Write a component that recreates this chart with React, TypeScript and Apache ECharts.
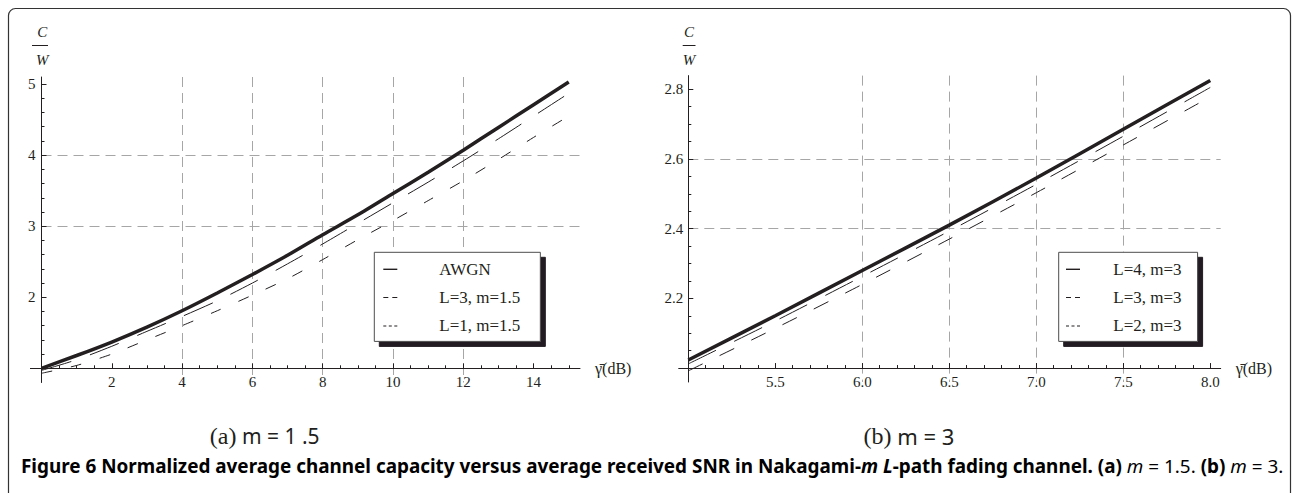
import React, { useEffect, useRef } from 'react';
import * as echarts from 'echarts';

// ---------- data ----------
// Panel (a): m = 1.5, x = average SNR (dB)
const snrA = [0, 1, 2, 3, 4, 5, 6, 7, 8, 9, 10, 11, 12, 13, 14, 15];
const awgnA = [1.0, 1.18, 1.37, 1.58, 1.81, 2.06, 2.32, 2.59, 2.88, 3.16, 3.46, 3.76, 4.07, 4.39, 4.71, 5.03];
const l3m15A = [0.97, 1.12, 1.31, 1.52, 1.73, 1.95, 2.2, 2.47, 2.75, 3.04, 3.33, 3.62, 3.92, 4.23, 4.55, 4.87];
const l1m15A = [0.93, 1.04, 1.2, 1.4, 1.6, 1.81, 2.03, 2.26, 2.53, 2.81, 3.08, 3.36, 3.64, 3.94, 4.25, 4.55];

// Panel (b): m = 3
const snrB = [5.0, 5.5, 6.0, 6.5, 7.0, 7.5, 8.0];
const l4m3B = [2.023, 2.15, 2.28, 2.41, 2.545, 2.685, 2.825];
const l3m3B = [2.012, 2.135, 2.263, 2.393, 2.527, 2.665, 2.805];
const l2m3B = [1.992, 2.114, 2.24, 2.37, 2.503, 2.64, 2.778];

// tick labels
const xLabelsA = [2, 4, 6, 8, 10, 12, 14];
const yLabelsA = [2, 3, 4, 5];
const xLabelsB = [5.5, 6.0, 6.5, 7.0, 7.5, 8.0];
const yLabelsB = [2.2, 2.4, 2.6, 2.8];

// ---------- styling / layout ----------
const INK = '#231f20';
const GRID = '#a6a6a6';
const SERIF = 'Liberation Serif';
const SANS = 'Noto Sans';

const xRangeA = [0, 15.32];
const yRangeA = [0.8, 5.1];
const xRangeB = [5, 8.06];
const yRangeB = [1.96, 2.839];
const crossA = 1; // y value where x-axis is drawn
const crossB = 2;

const gridA = { left: 41.5, top: 77, width: 538.5, height: 305.5 };
const gridB = { left: 688.3, top: 75.6, width: 532.4, height: 306.4 };

// legend sample icons (solid, long dash, short dash)
const ICON_SOLID = 'path://M0 0h14v1.4H0z';
const ICON_LONG = 'path://M0 0h5v1H0zM9 0h5v1H9z';
const ICON_SHORT = 'path://M0 0h3v1H0zM5.5 0h3v1H5.5zM11 0h3v1H11z';

function pairs(xs: number[], ys: number[]) {
  return xs.map((x, i) => [x, ys[i]]);
}

function minorValues(from: number, to: number, step: number, major: number): number[] {
  const out: number[] = [];
  const n = Math.round((to - from) / step);
  for (let i = 0; i <= n; i++) {
    const v = Math.round((from + i * step) * 1e6) / 1e6;
    const r = v / major;
    if (Math.abs(r - Math.round(r)) > 1e-6) out.push(v);
  }
  return out;
}

const xMinorA = minorValues(0.5, 15, 0.5, 2);
const yMinorA = minorValues(1.2, 5.0, 0.2, 1);
const xMinorB = minorValues(5.1, 8.0, 0.1, 0.5);
const yMinorB = minorValues(2.05, 2.8, 0.05, 0.2);

function fmt(list: number[], dec: number) {
  return (v: number) =>
    list.some((t) => Math.abs(t - v) < 1e-6) ? (dec ? v.toFixed(dec) : String(v)) : '';
}

function xOffset(grid: any, yr: number[], cross: number) {
  return -((cross - yr[0]) / (yr[1] - yr[0])) * grid.height;
}

const labelStyle = { fontFamily: SERIF, fontSize: 15, color: INK };
const splitStyle = { color: GRID, type: [10, 6], width: 1 };

function mainX(gridIndex: number, range: number[], interval: number, labels: number[], dec: number, offset: number) {
  return {
    type: 'value', gridIndex, min: range[0], max: range[1], interval, position: 'bottom', offset, z: 1,
    axisLine: { show: true, onZero: false, lineStyle: { color: INK, width: 1 } },
    axisTick: { show: true, inside: true, length: 5, customValues: labels, lineStyle: { color: INK, width: 1 } },
    axisLabel: { show: true, margin: 6, customValues: labels, formatter: fmt(labels, dec), ...labelStyle },
    splitLine: { show: true, showMinLine: false, showMaxLine: false, lineStyle: splitStyle },
    name: '\u03B3\u0304(dB)', nameLocation: 'end', nameGap: 15,
    nameTextStyle: { fontFamily: SERIF, fontSize: 16, color: INK, padding: [4, 0, 0, 0] },
  };
}
function minorX(gridIndex: number, range: number[], values: number[], offset: number) {
  return {
    type: 'value', gridIndex, min: range[0], max: range[1], position: 'bottom', offset, z: 1,
    axisLine: { show: false, onZero: false },
    axisTick: { show: true, inside: true, length: 3, customValues: values, lineStyle: { color: INK, width: 1 } },
    axisLabel: { show: false }, splitLine: { show: false },
  };
}
function mainY(gridIndex: number, range: number[], interval: number, labels: number[], dec: number, margin: number) {
  return {
    type: 'value', gridIndex, min: range[0], max: range[1], interval, position: 'left', z: 0,
    axisLine: { show: true, onZero: false, lineStyle: { color: INK, width: 1 } },
    axisTick: { show: true, inside: true, length: 5, customValues: labels, lineStyle: { color: INK, width: 1 } },
    axisLabel: { show: true, margin, customValues: labels, formatter: fmt(labels, dec), ...labelStyle },
    splitLine: { show: true, showMinLine: false, showMaxLine: false, lineStyle: splitStyle },
  };
}
function minorY(gridIndex: number, range: number[], values: number[]) {
  return {
    type: 'value', gridIndex, min: range[0], max: range[1], position: 'left', z: 0,
    axisLine: { show: false, onZero: false },
    axisTick: { show: true, inside: true, length: 3, customValues: values, lineStyle: { color: INK, width: 1 } },
    axisLabel: { show: false }, splitLine: { show: false },
  };
}

function buildOption() {
  const offA = xOffset(gridA, yRangeA, crossA);
  const offB = xOffset(gridB, yRangeB, crossB);
  const axisYA = gridA.top + gridA.height + offA;
  const axisYB = gridB.top + gridB.height + offB;

  const lineBase = { type: 'line', symbol: 'none', showSymbol: false, smooth: 0.25, silent: true, color: INK };
  const legendCommon = {
    orient: 'vertical', itemWidth: 14, itemHeight: 10, itemGap: 11.3, selectedMode: false,
    backgroundColor: '#fff', borderColor: '#4d4d4d', borderWidth: 1,
    shadowColor: INK, shadowOffsetX: 5, shadowOffsetY: 5, shadowBlur: 0,
  };
  const legendText = { fontFamily: SERIF, fontSize: 17, color: INK };
  const iconStyle = { color: INK, borderWidth: 0 };

  const fracText = (x: number, y: number, t: string) => ({
    type: 'text', x, y, silent: true,
    style: { text: t, fontFamily: SERIF, fontStyle: 'italic', fontSize: 15, fill: INK, align: 'center', verticalAlign: 'middle' },
  });

  return {
    animation: false,
    backgroundColor: '#fff',
    color: [INK],
    grid: [
      { ...gridA, containLabel: false },
      { ...gridB, containLabel: false },
    ],
    xAxis: [
      mainX(0, xRangeA, 2, xLabelsA, 0, offA),
      minorX(0, xRangeA, xMinorA, offA),
      mainX(1, xRangeB, 0.5, xLabelsB, 1, offB),
      minorX(1, xRangeB, xMinorB, offB),
    ],
    yAxis: [
      mainY(0, yRangeA, 1, yLabelsA, 0, 6),
      minorY(0, yRangeA, yMinorA),
      mainY(1, yRangeB, 0.2, yLabelsB, 1, 5),
      minorY(1, yRangeB, yMinorB),
    ],
    legend: [
      {
        ...legendCommon, left: 374.3, top: 252.3, padding: [8.5, 20, 7, 9],
        textStyle: { ...legendText, padding: [0, 0, 0, 37] },
        data: [
          { name: 'AWGN', icon: ICON_SOLID, itemStyle: iconStyle },
          { name: 'L=3, m=1.5', icon: ICON_LONG, itemStyle: iconStyle },
          { name: 'L=1, m=1.5', icon: ICON_SHORT, itemStyle: iconStyle },
        ],
      },
      {
        ...legendCommon, left: 1058.7, top: 252.3, padding: [8.5, 16, 7, 7.3],
        textStyle: { ...legendText, padding: [0, 0, 0, 28.3] },
        data: [
          { name: 'L=4, m=3', icon: ICON_SOLID, itemStyle: iconStyle },
          { name: 'L=3, m=3', icon: ICON_LONG, itemStyle: iconStyle },
          { name: 'L=2, m=3', icon: ICON_SHORT, itemStyle: iconStyle },
        ],
      },
    ],
    series: [
      { ...lineBase, name: 'AWGN', xAxisIndex: 0, yAxisIndex: 0, data: pairs(snrA, awgnA), lineStyle: { color: INK, width: 3.5 }, z: 4 },
      { ...lineBase, name: 'L=3, m=1.5', xAxisIndex: 0, yAxisIndex: 0, data: pairs(snrA, l3m15A), lineStyle: { color: INK, width: 1, type: [31, 20] }, z: 3 },
      { ...lineBase, name: 'L=1, m=1.5', xAxisIndex: 0, yAxisIndex: 0, data: pairs(snrA, l1m15A), lineStyle: { color: INK, width: 1, type: [11, 19] }, z: 3 },
      { ...lineBase, name: 'L=4, m=3', xAxisIndex: 2, yAxisIndex: 2, data: pairs(snrB, l4m3B), lineStyle: { color: INK, width: 3.5 }, z: 4 },
      { ...lineBase, name: 'L=3, m=3', xAxisIndex: 2, yAxisIndex: 2, data: pairs(snrB, l3m3B), lineStyle: { color: INK, width: 1, type: [31, 20] }, z: 3 },
      { ...lineBase, name: 'L=2, m=3', xAxisIndex: 2, yAxisIndex: 2, data: pairs(snrB, l2m3B), lineStyle: { color: INK, width: 1, type: [16, 19] }, z: 3 },
    ],
    graphic: [
      {
        type: 'rect', silent: true, z: -10,
        shape: { x: 8.5, y: 8.5, width: 1282, height: 640, r: 7 },
        style: { fill: 'none', stroke: '#333', lineWidth: 1.2 },
      },
      // C / W labels
      fracText(42.3, 31.5, 'C'),
      { type: 'line', silent: true, shape: { x1: 32, y1: 45.5, x2: 48, y2: 45.5 }, style: { stroke: INK, lineWidth: 1 } },
      fracText(42.3, 60, 'W'),
      fracText(689, 31.5, 'C'),
      { type: 'line', silent: true, shape: { x1: 682.7, y1: 45.5, x2: 695.5, y2: 45.5 }, style: { stroke: INK, lineWidth: 1 } },
      fracText(689, 60, 'W'),
      // x-axis extends slightly to the left of the y-axis
      { type: 'line', silent: true, shape: { x1: gridA.left - 11.5, y1: Math.round(axisYA) + 0.5, x2: gridA.left, y2: Math.round(axisYA) + 0.5 }, style: { stroke: INK, lineWidth: 1 } },
      { type: 'line', silent: true, shape: { x1: gridB.left - 10, y1: Math.round(axisYB) + 0.5, x2: gridB.left, y2: Math.round(axisYB) + 0.5 }, style: { stroke: INK, lineWidth: 1 } },
      // sub-captions
      {
        type: 'text', x: 264.7, y: 436, silent: true,
        style: {
          text: '{p|(a)}{s| m = 1 .5}', align: 'center', verticalAlign: 'middle',
          rich: {
            p: { fontFamily: SERIF, fontSize: 24, fill: INK, verticalAlign: 'middle' },
            s: { fontFamily: SANS, fontSize: 21, fill: INK, verticalAlign: 'middle' },
          },
        },
      },
      {
        type: 'text', x: 909, y: 436, silent: true,
        style: {
          text: '{p|(b)}{s| m = 3}', align: 'center', verticalAlign: 'middle',
          rich: {
            p: { fontFamily: SERIF, fontSize: 24, fill: INK, verticalAlign: 'middle' },
            s: { fontFamily: SANS, fontSize: 22, fill: INK, verticalAlign: 'middle' },
          },
        },
      },
      // figure caption
      {
        type: 'text', x: 21, y: 466, silent: true,
        style: {
          text:
            '{b|Figure 6 Normalized average channel capacity versus average received SNR in Nakagami-}{bi|m}{b| }{bi|L}{b|-path fading channel. (a) }{i|m}{r| = 1.5. }{b|(b) }{i|m}{r| = 3.}',
          align: 'left', verticalAlign: 'middle',
          rich: {
            b: { fontFamily: SANS, fontSize: 18.9, fontWeight: 'bold', fill: '#000' },
            bi: { fontFamily: SANS, fontSize: 18.9, fontWeight: 'bold', fontStyle: 'italic', fill: '#000' },
            i: { fontFamily: SANS, fontSize: 18.9, fontStyle: 'italic', fill: '#000' },
            r: { fontFamily: SANS, fontSize: 18.9, fill: '#000' },
          },
        },
      },
    ],
  };
}

export default function App() {
  const ref = useRef<HTMLDivElement>(null);
  useEffect(() => {
    if (!ref.current) return;
    const chart = echarts.init(ref.current, undefined, { renderer: 'svg' });
    chart.setOption(buildOption() as any);
    return () => chart.dispose();
  }, []);
  return (
    <div
      ref={ref}
      style={{ position: 'absolute', left: 0, top: 0, width: 1292, height: 493, background: '#fff' }}
    />
  );
}
